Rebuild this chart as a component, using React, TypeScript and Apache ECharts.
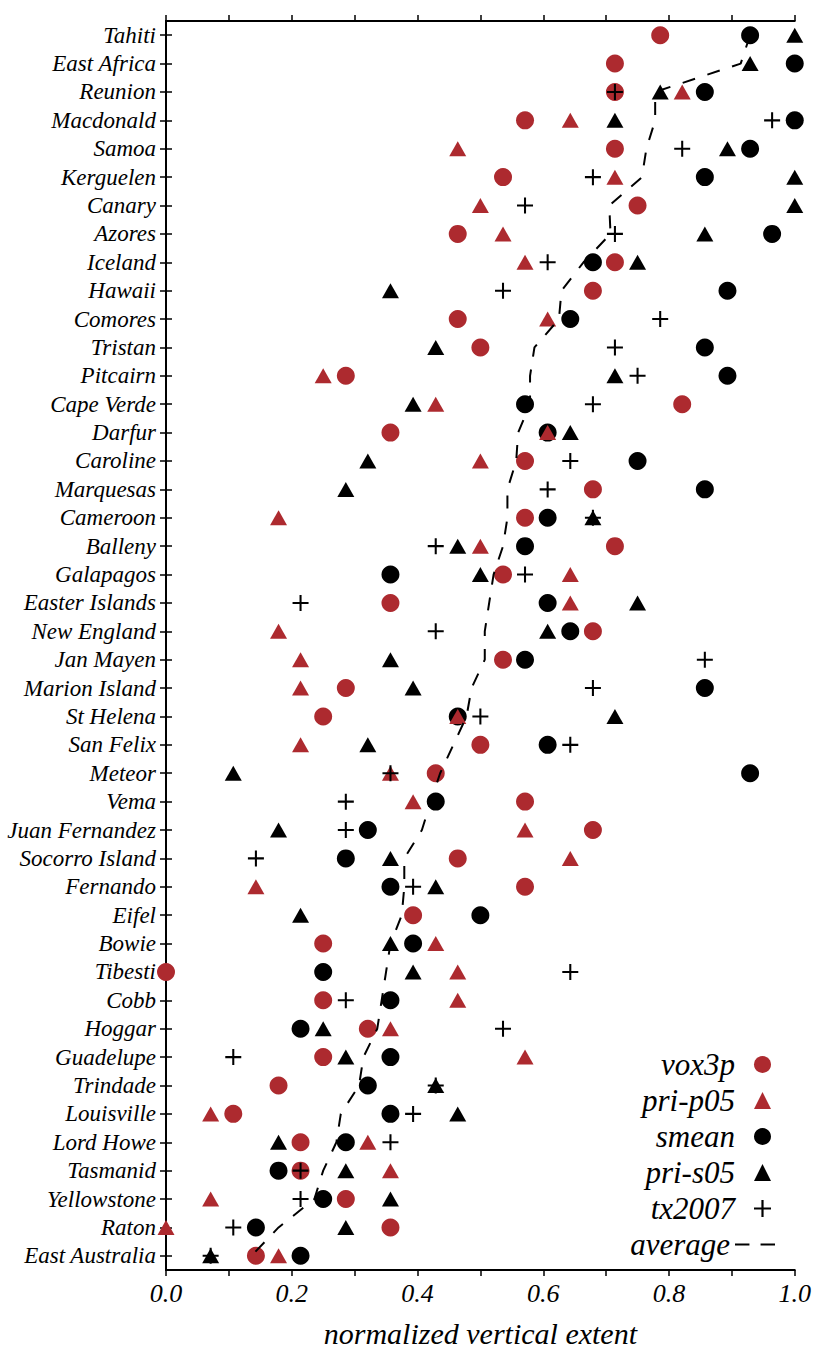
import React, { useEffect, useRef } from "react";
import * as echarts from "echarts";

const categories = [
  "Tahiti", "East Africa", "Reunion", "Macdonald", "Samoa", "Kerguelen", "Canary", "Azores",
  "Iceland", "Hawaii", "Comores", "Tristan", "Pitcairn", "Cape Verde", "Darfur", "Caroline",
  "Marquesas", "Cameroon", "Balleny", "Galapagos", "Easter Islands", "New England", "Jan Mayen",
  "Marion Island", "St Helena", "San Felix", "Meteor", "Vema", "Juan Fernandez", "Socorro Island",
  "Fernando", "Eifel", "Bowie", "Tibesti", "Cobb", "Hoggar", "Guadelupe", "Trindade", "Louisville",
  "Lord Howe", "Tasmanid", "Yellowstone", "Raton", "East Australia",
];

const vox3p = [
  0.786, 0.714, 0.714, 0.571, 0.714, 0.536, 0.75, 0.464, 0.714, 0.679, 0.464, 0.5, 0.286, 0.821,
  0.357, 0.571, 0.679, 0.571, 0.714, 0.536, 0.357, 0.679, 0.536, 0.286, 0.25, 0.5, 0.429, 0.571,
  0.679, 0.464, 0.571, 0.393, 0.25, 0.0, 0.25, 0.321, 0.25, 0.179, 0.107, 0.214, 0.214, 0.286,
  0.357, 0.143,
];
const priP05 = [
  null, null, 0.821, 0.643, 0.464, 0.714, 0.5, 0.536, 0.571, null, 0.607, null, 0.25, 0.429,
  0.607, 0.5, null, 0.179, 0.5, 0.643, 0.643, 0.179, 0.214, 0.214, 0.464, 0.214, 0.357, 0.393,
  0.571, 0.643, 0.143, null, 0.429, 0.464, 0.464, 0.357, 0.571, null, 0.071, 0.321, 0.357, 0.071,
  0.0, 0.179,
];
const smean = [
  0.929, 1.0, 0.857, 1.0, 0.929, 0.857, null, 0.964, 0.679, 0.893, 0.643, 0.857, 0.893, 0.571,
  0.607, 0.75, 0.857, 0.607, 0.571, 0.357, 0.607, 0.643, 0.571, 0.857, 0.464, 0.607, 0.929, 0.429,
  0.321, 0.286, 0.357, 0.5, 0.393, 0.25, 0.357, 0.214, 0.357, 0.321, 0.357, 0.286, 0.179, 0.25,
  0.143, 0.214,
];
const priS05 = [
  1.0, 0.929, 0.786, 0.714, 0.893, 1.0, 1.0, 0.857, 0.75, 0.357, null, 0.429, 0.714, 0.393,
  0.643, 0.321, 0.286, 0.679, 0.464, 0.5, 0.75, 0.607, 0.357, 0.393, 0.714, 0.321, 0.107, null,
  0.179, 0.357, 0.429, 0.214, 0.357, 0.393, null, 0.25, 0.286, 0.429, 0.464, 0.179, 0.286, 0.357,
  0.286, 0.071,
];
const tx2007 = [
  null, null, 0.714, 0.964, 0.821, 0.679, 0.571, 0.714, 0.607, 0.536, 0.786, 0.714, 0.75, 0.679,
  null, 0.643, 0.607, 0.679, 0.429, 0.571, 0.214, 0.429, 0.857, 0.679, 0.5, 0.643, 0.357, 0.286,
  0.286, 0.143, 0.393, null, null, 0.643, 0.286, 0.536, 0.107, 0.429, 0.393, 0.357, 0.214, 0.214,
  0.107, 0.071,
];
const average = [
  0.929, 0.914, 0.778, 0.778, 0.764, 0.757, 0.705, 0.707, 0.664, 0.629, 0.625, 0.586, 0.579, 0.579,
  0.56, 0.557, 0.543, 0.543, 0.536, 0.521, 0.514, 0.507, 0.507, 0.486, 0.478, 0.457, 0.436, 0.421,
  0.407, 0.379, 0.379, 0.375, 0.357, 0.35, 0.343, 0.336, 0.314, 0.307, 0.278, 0.271, 0.25, 0.236,
  0.179, 0.136,
];

const xTicks = [0, 0.2, 0.4, 0.6, 0.8, 1.0];

const RED = "#ad2a2f";
const BLACK = "#000000";
const FONT = "'Liberation Serif', 'Times New Roman', serif";
const PLUS = "path://M6.1,0H7.9V6.1H14V7.9H7.9V14H6.1V7.9H0V6.1H6.1Z";
const DASHES = "path://M0,0H13V2H0ZM23,0H36V2H23Z";

function pairs(vals: (number | null)[]) {
  const out: [number, string][] = [];
  vals.forEach((v, i) => {
    if (v !== null) out.push([v, categories[i]]);
  });
  return out;
}

export default function App() {
  const ref = useRef<HTMLDivElement>(null);
  useEffect(() => {
    if (!ref.current) return;
    const chart = echarts.init(ref.current, null, { renderer: "svg" });
    const axisLine = { show: true, lineStyle: { color: BLACK, width: 2 } };
    const tick = { show: true, length: 6, lineStyle: { color: BLACK, width: 1.5 } };
    const minor = { show: true, splitNumber: 2, length: 6, lineStyle: { color: BLACK, width: 1.5 } };
    const scatterBase = { type: "scatter", clip: false, xAxisIndex: 0, yAxisIndex: 0 };
    const legendText = {
      color: BLACK,
      fontFamily: FONT,
      fontStyle: "italic",
      fontSize: 31,
      lineHeight: 31,
    };
    chart.setOption({
      animation: false,
      backgroundColor: "#ffffff",
      grid: { left: 166, right: 18, top: 21, bottom: 81 },
      xAxis: [
        {
          type: "value",
          position: "bottom",
          min: xTicks[0],
          max: xTicks[xTicks.length - 1],
          interval: 0.2,
          axisLine,
          axisTick: tick,
          minorTick: minor,
          splitLine: { show: false },
          minorSplitLine: { show: false },
          axisLabel: {
            color: BLACK,
            fontFamily: FONT,
            fontStyle: "italic",
            fontSize: 26,
            margin: 10,
            formatter: (v: number) => v.toFixed(1),
          },
          name: "normalized vertical extent",
          nameLocation: "middle",
          nameGap: 48,
          nameTextStyle: { color: BLACK, fontFamily: FONT, fontStyle: "italic", fontSize: 30 },
        },
        {
          type: "value",
          position: "top",
          min: xTicks[0],
          max: xTicks[xTicks.length - 1],
          interval: 0.2,
          axisLine,
          axisTick: tick,
          minorTick: minor,
          splitLine: { show: false },
          axisLabel: { show: false },
        },
      ],
      yAxis: [
        {
          type: "category",
          inverse: true,
          data: categories,
          position: "left",
          axisLine,
          axisTick: { ...tick, alignWithLabel: true },
          axisLabel: {
            interval: 0,
            color: BLACK,
            fontFamily: FONT,
            fontStyle: "italic",
            fontSize: 23,
            margin: 10,
          },
        },
        {
          type: "category",
          inverse: true,
          data: categories,
          position: "right",
          axisLine,
          axisTick: { ...tick, alignWithLabel: true, interval: 0 },
          axisLabel: { show: false },
        },
      ],
      legend: [
        {
          orient: "vertical",
          right: 38,
          top: 1044,
          align: "right",
          itemWidth: 17,
          itemHeight: 17,
          itemGap: 5,
          textStyle: { ...legendText, padding: [0, 14, 0, 0] },
          data: [
            { name: "vox3p", icon: "circle" },
            { name: "pri-p05", icon: "triangle" },
            { name: "smean", icon: "circle" },
            { name: "pri-s05", icon: "triangle" },
            { name: "tx2007", icon: PLUS },
          ],
        },
        {
          orient: "vertical",
          right: 34,
          top: 1224,
          align: "right",
          itemWidth: 40,
          itemHeight: 17,
          textStyle: legendText,
          data: [{ name: "average", icon: DASHES }],
        },
      ],
      series: [
        {
          name: "average",
          type: "line",
          symbol: "none",
          data: pairs(average),
          lineStyle: { color: BLACK, width: 2, type: [13, 13] },
          itemStyle: { color: BLACK },
        },
        {
          ...scatterBase,
          name: "smean",
          symbol: "circle",
          symbolSize: 18,
          itemStyle: { color: BLACK, opacity: 1 },
          data: pairs(smean),
        },
        {
          ...scatterBase,
          name: "vox3p",
          symbol: "circle",
          symbolSize: 18,
          itemStyle: { color: RED, opacity: 1 },
          data: pairs(vox3p),
        },
        {
          ...scatterBase,
          name: "pri-p05",
          symbol: "triangle",
          symbolSize: [17, 15],
          itemStyle: { color: RED, opacity: 1 },
          data: pairs(priP05),
        },
        {
          ...scatterBase,
          name: "pri-s05",
          symbol: "triangle",
          symbolSize: [17, 15],
          itemStyle: { color: BLACK, opacity: 1 },
          data: pairs(priS05),
        },
        {
          ...scatterBase,
          name: "tx2007",
          symbol: PLUS,
          symbolSize: 16,
          itemStyle: { color: BLACK, opacity: 1 },
          data: pairs(tx2007),
        },
      ],
    });
    return () => chart.dispose();
  }, []);
  return (
    <div
      ref={ref}
      style={{ position: "absolute", left: 0, top: 0, width: 814, height: 1353, background: "#fff" }}
    />
  );
}
